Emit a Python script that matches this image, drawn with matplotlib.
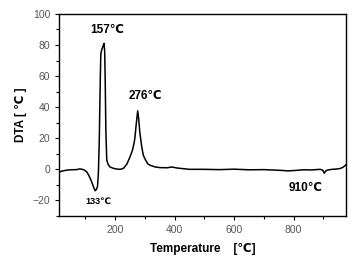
import numpy as np
import matplotlib.pyplot as plt
from matplotlib.ticker import MultipleLocator

plt.rcParams['font.family'] = ['Liberation Sans', 'DejaVu Sans']

# DTA-Kurve
temp = [12, 20, 35, 50, 70, 82, 95, 105, 112, 118, 124, 130, 133, 137, 141, 144, 147,
        150, 152, 155, 158, 161, 163, 165, 167, 169, 172, 177, 183, 195, 205, 217,
        228, 240, 250, 258, 264, 267, 271, 276, 279, 283, 290, 295, 301, 310, 318,
        335, 351, 375, 390, 410, 450, 500, 550, 600, 650, 700, 725, 760, 780, 800,
        833, 860, 889, 898, 903, 908, 915, 930, 945, 958, 966, 972, 976]
dta = [-2.0, -1.2, -0.6, -0.3, -0.2, 0.3, -0.3, -1.7, -4.0, -6.5, -9.5, -12.5, -13.8, -13.0, -11.0, -2.0, 20.0,
       55.0, 74.0, 77.0, 78.5, 80.0, 81.0, 76.0, 55.0, 25.0, 6.0, 3.0, 1.5, 0.6, 0.2, 0.0,
       0.6, 3.5, 8.0, 12.0, 17.0, 21.0, 29.0, 37.6, 33.0, 24.0, 14.0, 9.0, 6.5, 3.5, 2.6,
       1.5, 1.1, 1.0, 1.5, 0.8, 0.0, 0.0, -0.2, 0.1, -0.3, -0.2, -0.4, -0.7, -1.0, -0.8,
       -0.3, -0.4, 0.0, -0.6, -2.5, -1.0, -0.4, 0.0, 0.2, 0.6, 1.4, 2.2, 3.0]

peak_labels = ['157℃', '276℃', '133℃', '910℃']
peak_pos = [(173, 89.5), (302, 47.5), (143, -20.5), (839, -12.3)]
peak_size = [8.5, 8.5, 6.5, 8.5]

fig = plt.figure(figsize=(3.52, 2.58), dpi=100)
ax = fig.add_axes([0.168, 0.163, 0.815, 0.783])

ax.plot(temp, dta, color='black', lw=1.1)

for txt, (x, y), fs in zip(peak_labels, peak_pos, peak_size):
    ax.text(x, y, txt, fontsize=fs, fontweight='bold', ha='center', va='center')

ax.set_xlim(12, 976)
ax.set_ylim(-30, 100)
ax.xaxis.set_major_locator(MultipleLocator(200))
ax.xaxis.set_minor_locator(MultipleLocator(100))
ax.yaxis.set_major_locator(MultipleLocator(20))
ax.yaxis.set_minor_locator(MultipleLocator(10))
ax.tick_params(which='both', direction='out', labelsize=7.5, labelcolor='#555555', width=0.8)
ax.tick_params(which='major', length=3)
ax.tick_params(which='minor', length=2)
for s in ax.spines.values():
    s.set_linewidth(1.0)

ax.set_xlabel('Temperature    [℃]', fontsize=8.5, fontweight='bold', labelpad=6)
ax.set_ylabel('DTA [ ℃ ]', fontsize=8.5, fontweight='bold', labelpad=4)

fig.savefig('out.png', dpi=100)
